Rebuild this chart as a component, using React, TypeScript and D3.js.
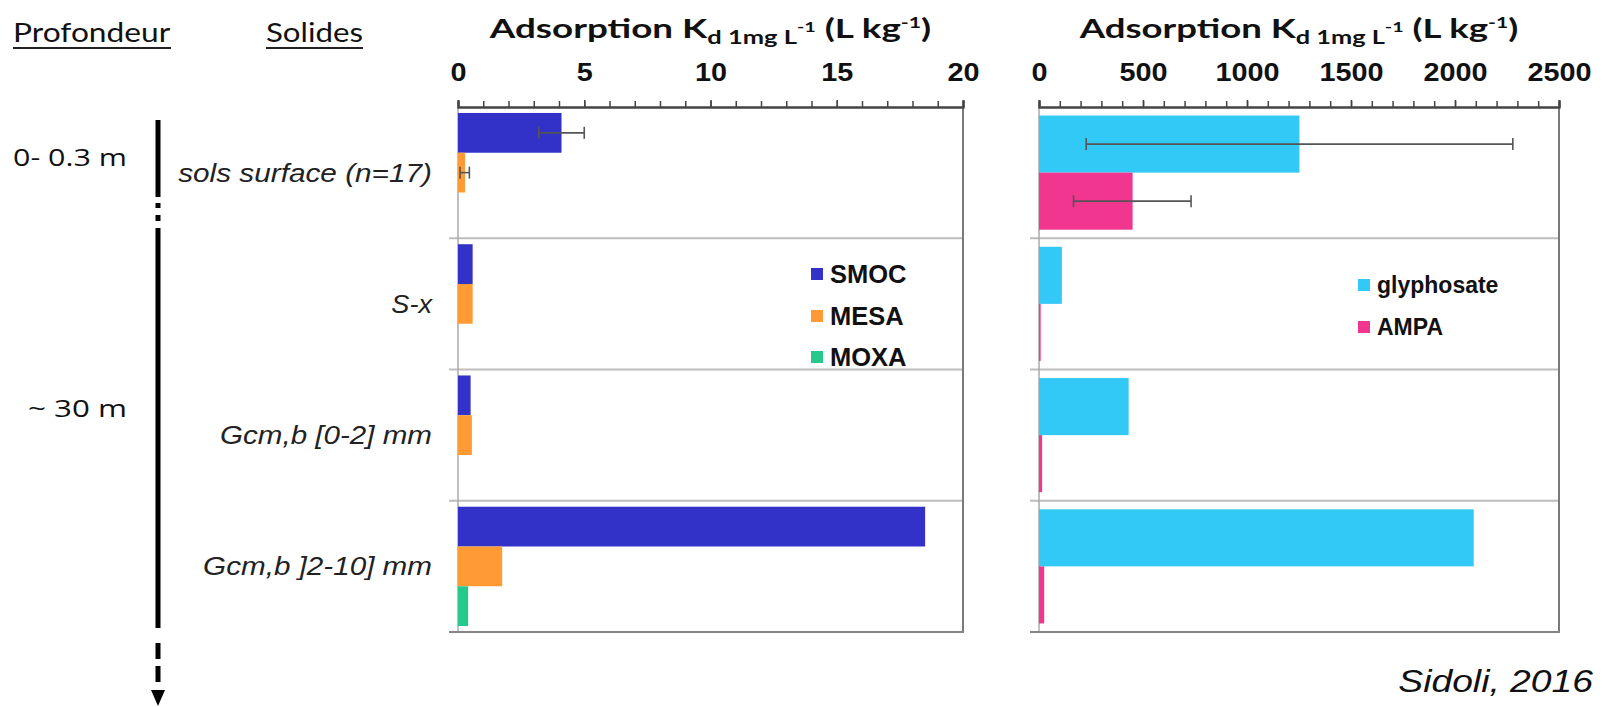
import * as d3 from "d3";
import { useEffect, useRef } from "react";

// solids (rows) and series
const categories = ["sols surface (n=17)", "S-x", "Gcm,b [0-2] mm", "Gcm,b ]2-10] mm"];
const seriesLeft = ["SMOC", "MESA", "MOXA"];
const seriesRight = ["glyphosate", "AMPA"];

// Kd values, left panel (L/kg)
const smoc = [4.1, 0.58, 0.5, 18.5];
const mesa = [0.28, 0.58, 0.55, 1.75];
const moxa = [0, 0, 0, 0.4];
const smocErr: ([number, number] | null)[] = [[3.2, 5.0], null, null, null];
const mesaErr: ([number, number] | null)[] = [[0.08, 0.45], null, null, null];

// Kd values, right panel (L/kg)
const glyphosate = [1252, 110, 431, 2090];
const ampa = [450, 8, 15, 25];
const glyphosateErr: ([number, number] | null)[] = [[227, 2278], null, null, null];
const ampaErr: ([number, number] | null)[] = [[166, 731], null, null, null];

const ticksLeft = [0, 5, 10, 15, 20];
const ticksRight = [0, 500, 1000, 1500, 2000, 2500];

const colorsLeft = ["#3232c8", "#ff9a35", "#25c98c"];
const colorsRight = ["#33c9f7", "#f0368f"];

const W = 1610;
const H = 707;
const top = 107;
const bottom = 632;

type G = d3.Selection<SVGGElement, unknown, null, undefined>;

// put a text at x,y, optionally stretched to a given width
function put(
  g: G,
  str: string,
  x: number,
  y: number,
  o: { anchor?: string; family?: string; size?: number; weight?: string; style?: string; width?: number; fill?: string }
) {
  const t = g
    .append("text")
    .text(str)
    .attr("text-anchor", o.anchor ?? "start")
    .attr("font-family", o.family ?? "'Liberation Sans', Arial, sans-serif")
    .attr("font-size", o.size ?? 24)
    .attr("font-weight", o.weight ?? "normal")
    .attr("font-style", o.style ?? "normal")
    .attr("fill", o.fill ?? "#111")
    .attr("transform", `translate(${x},${y})`);
  if (o.width) {
    const bw = (t.node() as SVGTextElement).getBBox().width;
    if (bw > 0) t.attr("transform", `translate(${x},${y}) scale(${o.width / bw},1)`);
  }
  return t;
}

function title(g: G, cx: number, width: number) {
  const t = g
    .append("text")
    .attr("text-anchor", "middle")
    .attr("font-family", "Lato, 'Open Sans', sans-serif")
    .attr("font-weight", "bold")
    .attr("font-size", 26)
    .attr("fill", "#111")
    .attr("transform", `translate(${cx},38)`);
  t.append("tspan").text("Adsorption K");
  t.append("tspan").attr("font-size", 18).attr("dy", 6).text("d 1mg L");
  t.append("tspan").attr("font-size", 14).attr("dy", -12).text("-1");
  t.append("tspan").attr("dy", 6).text(" (L kg");
  t.append("tspan").attr("font-size", 15).attr("dy", -10).text("-1");
  t.append("tspan").attr("dy", 10).text(")");
  const bw = (t.node() as SVGTextElement).getBBox().width;
  t.attr("transform", `translate(${cx},38) scale(${width / bw},1)`);
}

function panel(
  g: G,
  x: d3.ScaleLinear<number, number>,
  majors: number[],
  minorStep: number,
  series: string[],
  values: number[][],
  errs: ([number, number] | null)[][],
  colors: string[],
  titleWidth: number
) {
  const y = d3.scaleBand<string>().domain(categories).range([top, bottom]);
  const sub = d3.scaleBand<string>().domain(series).range([0, y.bandwidth()]).paddingOuter(0.15);
  const [x0, x1] = x.range();

  title(g, (x0 + x1) / 2, titleWidth);

  // separators and frame
  categories.slice(1).forEach((c) => {
    g.append("line")
      .attr("x1", x0 - 9).attr("x2", x1)
      .attr("y1", y(c)!).attr("y2", y(c)!)
      .attr("stroke", "#bdbdbd").attr("stroke-width", 2);
  });
  g.append("line").attr("x1", x0).attr("x2", x0).attr("y1", top).attr("y2", bottom)
    .attr("stroke", "#aaa").attr("stroke-width", 1.5);
  g.append("line").attr("x1", x1).attr("x2", x1).attr("y1", top).attr("y2", bottom)
    .attr("stroke", "#7a7a7a").attr("stroke-width", 2);
  g.append("line").attr("x1", x0 - 9).attr("x2", x1 + 1).attr("y1", bottom).attr("y2", bottom)
    .attr("stroke", "#858585").attr("stroke-width", 2);

  // bars
  series.forEach((s, i) => {
    g.append("g")
      .selectAll("rect")
      .data(values[i])
      .join("rect")
      .attr("x", x(0))
      .attr("y", (_, j) => y(categories[j])! + sub(s)!)
      .attr("width", (d) => x(d) - x(0))
      .attr("height", sub.bandwidth())
      .attr("fill", colors[i]);
  });

  // error bars
  series.forEach((s, i) => {
    errs[i].forEach((e, j) => {
      if (!e) return;
      const cy = y(categories[j])! + sub(s)! + sub.bandwidth() / 2;
      const eg = g.append("g").attr("stroke", "#555").attr("stroke-width", 1.6);
      eg.append("line").attr("x1", x(e[0])).attr("x2", x(e[1])).attr("y1", cy).attr("y2", cy);
      e.forEach((v) =>
        eg.append("line").attr("x1", x(v)).attr("x2", x(v)).attr("y1", cy - 6).attr("y2", cy + 6)
      );
    });
  });

  // top axis: minor ticks then majors with labels
  const minor = d3.range(majors[0], majors[majors.length - 1] + minorStep / 2, minorStep);
  const am = g.append("g").attr("transform", `translate(0,${top})`)
    .call(d3.axisTop(x).tickValues(minor).tickSize(6).tickFormat(() => ""));
  const aM = g.append("g").attr("transform", `translate(0,${top})`)
    .call(d3.axisTop(x).tickValues(majors).tickSize(7).tickPadding(19).tickFormat(d3.format("d")));
  [am, aM].forEach((a) => {
    a.select(".domain").attr("stroke", "#444").attr("stroke-width", 2);
    a.selectAll(".tick line").attr("stroke", "#444").attr("stroke-width", 1.5);
  });
  aM.selectAll(".tick text")
    .attr("font-family", "'Liberation Sans', Arial, sans-serif")
    .attr("font-weight", "bold")
    .attr("font-size", 25.5)
    .attr("fill", "#111")
    .attr("transform", "scale(1.13,1)");

  return y;
}

function legend(g: G, names: string[], colors: string[], x: number, ys: number[], size: number) {
  names.forEach((n, i) => {
    g.append("rect").attr("x", x).attr("y", ys[i] - 6).attr("width", 12).attr("height", 12).attr("fill", colors[i]);
    put(g, n, x + 19, ys[i] + size * 0.36, { weight: "bold", size });
  });
}

export default function App() {
  const ref = useRef<SVGSVGElement | null>(null);

  useEffect(() => {
    if (!ref.current) return;
    const svg = d3.select(ref.current);
    svg.selectAll("*").remove();
    const g = svg.append("g") as G;

    const xL = d3.scaleLinear().domain([0, 20]).range([458, 963]);
    const xR = d3.scaleLinear().domain([0, 2500]).range([1039, 1559]);

    const y = panel(g, xL, ticksLeft, 1, seriesLeft, [smoc, mesa, moxa], [smocErr, mesaErr, [null, null, null, null]], colorsLeft, 443);
    panel(g, xR, ticksRight, 100, seriesRight, [glyphosate, ampa], [glyphosateErr, ampaErr], colorsRight, 440);

    legend(g, seriesLeft, colorsLeft, 811, [274, 316, 357], 25.5);
    legend(g, seriesRight, colorsRight, 1358, [285, 327], 23);

    // headers
    const head = { family: "Lato, 'Open Sans', sans-serif", size: 26 };
    put(g, "Profondeur", 13, 42, { ...head, width: 158 });
    put(g, "Solides", 266, 42, { ...head, width: 97 });
    g.append("line").attr("x1", 13).attr("x2", 171).attr("y1", 48).attr("y2", 48).attr("stroke", "#222").attr("stroke-width", 2);
    g.append("line").attr("x1", 266).attr("x2", 363).attr("y1", 48).attr("y2", 48).attr("stroke", "#222").attr("stroke-width", 2);

    // depth labels
    const depth = { family: "'Open Sans', sans-serif", size: 24 };
    put(g, "0- 0.3 m", 13, 166, { ...depth, width: 114 });
    put(g, "~ 30 m", 28, 417, { ...depth, width: 99 });

    // category labels
    const widths = [254, 42, 212, 229];
    categories.forEach((c, i) => {
      put(g, c, 432, y(c)! + y.bandwidth() / 2 + 9, { anchor: "end", style: "italic", size: 25.5, width: widths[i], fill: "#222" });
    });

    // depth arrow
    const ax = 158;
    const seg = (y1: number, y2: number) =>
      g.append("line").attr("x1", ax).attr("x2", ax).attr("y1", y1).attr("y2", y2).attr("stroke", "#000").attr("stroke-width", 5);
    seg(120, 197);
    seg(203, 208);
    seg(215, 221);
    seg(228, 628);
    seg(643, 659);
    seg(666, 682);
    g.append("path").attr("d", `M${ax - 7},690L${ax + 7},690L${ax},706Z`).attr("fill", "#000");

    put(g, "Sidoli, 2016", 1593, 692, { anchor: "end", style: "italic", size: 32, width: 195 });
  }, []);

  return (
    <svg
      ref={ref}
      width={W}
      height={H}
      style={{ position: "absolute", left: 0, top: 0, background: "#fff" }}
    />
  );
}
